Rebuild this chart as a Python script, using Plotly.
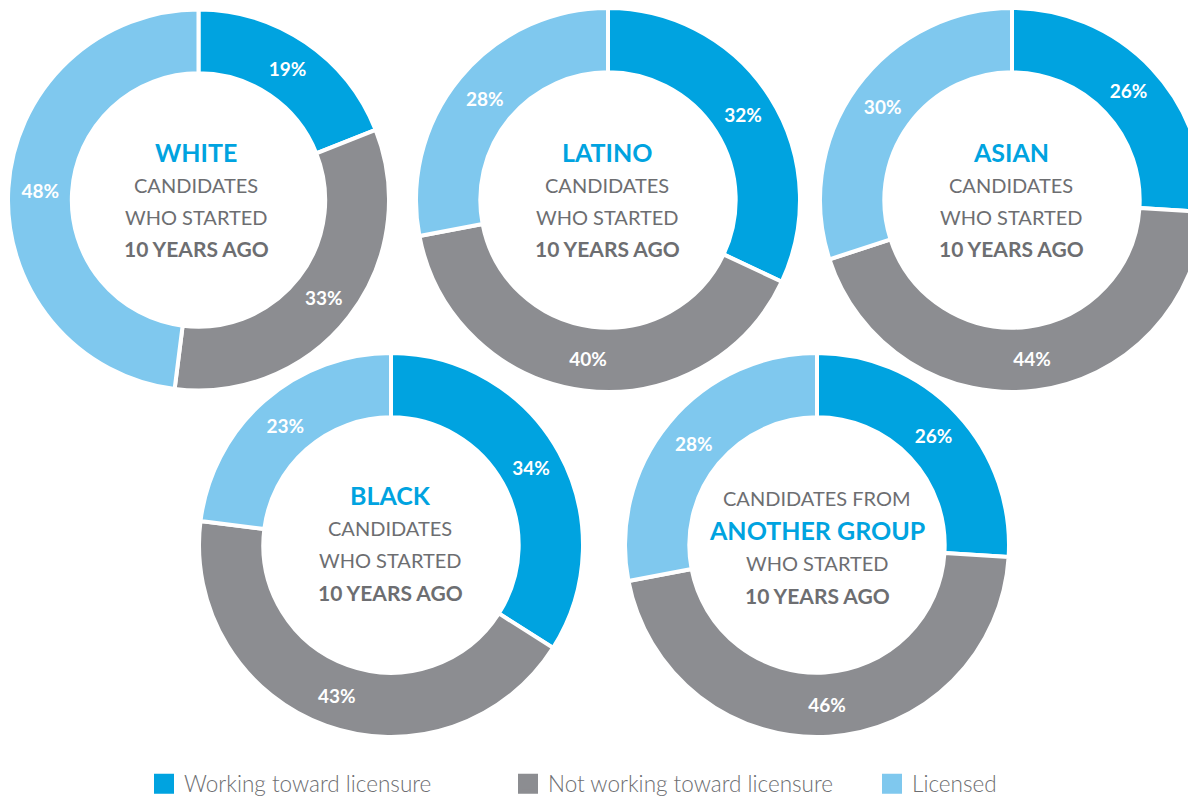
import plotly.graph_objects as go

# The page body has an 8px margin, so figure coordinates = screen coordinates - 8
OFF = 8
W, H = 1300, 830   # parts beyond the 1196x799 window are simply not visible

# ---- data ----
statuses = ["Working toward licensure", "Not working toward licensure", "Licensed"]
white = [19, 33, 48]
latino = [32, 40, 28]
asian = [26, 44, 30]
black = [34, 43, 23]
another = [26, 46, 28]

groups = ["WHITE", "LATINO", "ASIAN", "BLACK", "ANOTHER GROUP"]
series = [white, latino, asian, black, another]

colors = ["#00A3E0", "#8C8D91", "#7FC8EE"]
TXT = "#6D6E71"
BLUE = "#00A3E0"
FONT = "Lato"

# screen centres of each donut and domain radius
R = 192
pie_centers = [(197, 200), (608, 200), (1012, 200), (391, 545), (817, 545)]

def fx(x):
    return min(max((x - OFF) / W, 0), 1)

def fy(y):
    return min(max(1 - (y - OFF) / H, 0), 1)

fig = go.Figure()
for i, (g, vals) in enumerate(zip(groups, series)):
    cx, cy = pie_centers[i]
    fig.add_trace(go.Pie(
        labels=statuses,
        values=vals,
        hole=0.665,
        sort=False,
        direction="clockwise",
        rotation=0,
        marker=dict(colors=colors, line=dict(color="white", width=4)),
        texttemplate="%{value}%",
        textposition="inside",
        insidetextorientation="horizontal",
        textfont=dict(family=FONT, size=19, color="white", weight=700),
        domain=dict(x=[fx(cx - R), fx(cx + R)], y=[fy(cy + R), fy(cy - R)]),
        name=g,
        showlegend=False,
        hoverinfo="label+percent",
    ))

# legend entries (square swatches)
for s, c in zip(statuses, colors):
    fig.add_trace(go.Scatter(
        x=[None], y=[None], mode="markers", name=s,
        marker=dict(symbol="square", size=16, color=c, line=dict(color=c, width=4)),
        showlegend=True, hoverinfo="skip",
    ))

# center texts
def add_text(x, y, text, color, size, weight):
    fig.add_annotation(x=fx(x), y=fy(y), xref="paper", yref="paper",
                       text=text, showarrow=False, xanchor="center", yanchor="middle",
                       font=dict(family=FONT, size=size, color=color, weight=weight))

centers = [(196, 152), (607, 152), (1011, 152), (390, 495)]
for (cx, cy), g in zip(centers, groups[:4]):
    add_text(cx, cy, g, BLUE, 25, 700)
    add_text(cx, cy + 33, "CANDIDATES", TXT, 20, 400)
    add_text(cx, cy + 65, "WHO STARTED", TXT, 20, 400)
    add_text(cx, cy + 97, "10 YEARS AGO", TXT, 21, 700)

add_text(817, 498, "CANDIDATES FROM", TXT, 20, 400)
add_text(817, 530, "ANOTHER GROUP", BLUE, 25, 700)
add_text(817, 563, "WHO STARTED", TXT, 20, 400)
add_text(817, 595, "10 YEARS AGO", TXT, 21, 700)

fig.update_layout(
    width=W, height=H,
    margin=dict(l=0, r=0, t=0, b=0),
    paper_bgcolor="white",
    plot_bgcolor="white",
    xaxis=dict(visible=False),
    yaxis=dict(visible=False),
    showlegend=True,
    uniformtext=dict(minsize=19, mode="show"),
    legend=dict(
        orientation="h",
        x=fx(144), xanchor="left",
        y=fy(784), yanchor="middle",
        font=dict(family=FONT, size=22.5, color=TXT, weight=300),
        entrywidth=319, entrywidthmode="pixels",
        itemsizing="trace",
        traceorder="normal",
        bgcolor="rgba(0,0,0,0)",
    ),
)

fig.write_html("out.html")
